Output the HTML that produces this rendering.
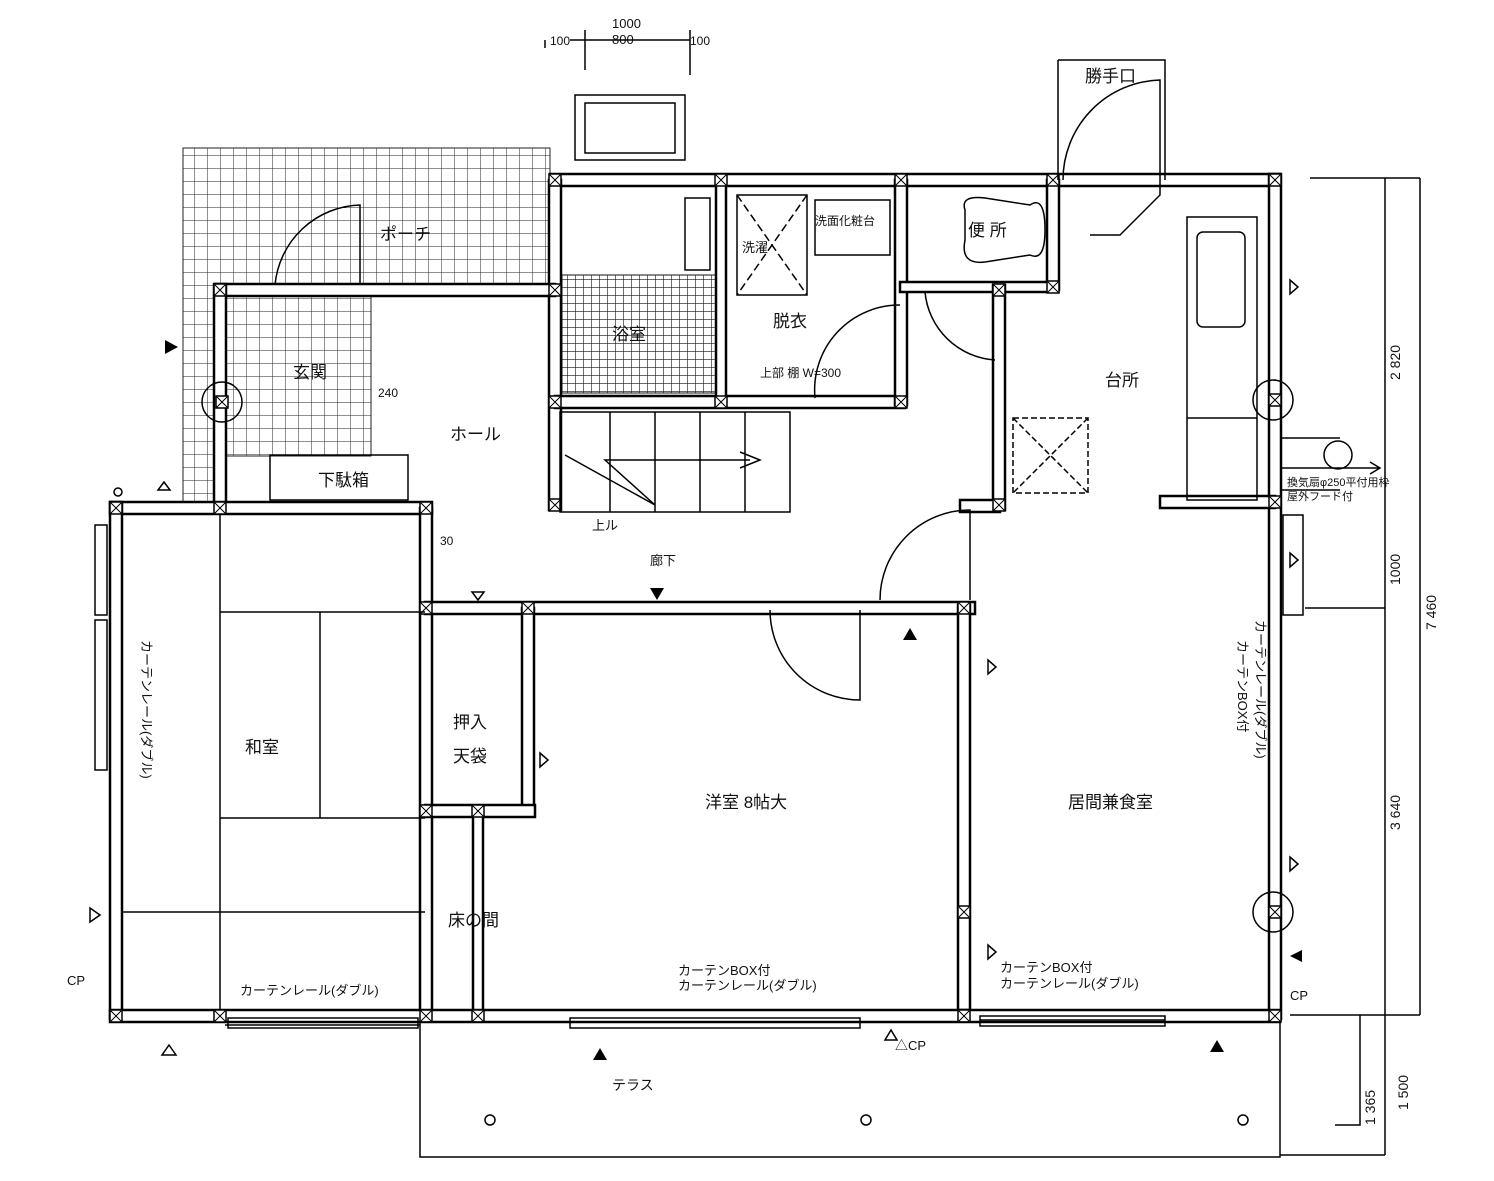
<!DOCTYPE html>
<html><head><meta charset="utf-8"><style>
html,body{margin:0;padding:0;background:#fff;}
svg{display:block}
text{font-family:"Liberation Sans","Noto Sans CJK JP",sans-serif;fill:#111}
</style></head><body>
<svg width="1494" height="1181" viewBox="0 0 1494 1181" xmlns="http://www.w3.org/2000/svg">
<defs>
<pattern id="grid" width="13" height="13" patternUnits="userSpaceOnUse"><path d="M13 0V13H0" fill="none" stroke="#222" stroke-width="1"/></pattern>
<pattern id="fgrid" width="8" height="8" patternUnits="userSpaceOnUse"><path d="M8 0V8H0" fill="none" stroke="#111" stroke-width="1.2"/></pattern>
<g id="post"><rect x="-6" y="-6" width="12" height="12" fill="#fff" stroke="#000" stroke-width="1.5"/><path d="M-6 -6L6 6M6 -6L-6 6" stroke="#000" stroke-width="1"/></g>
</defs>
<rect width="1494" height="1181" fill="#fff"/>
<path d="M183 148H550V290H220V505H183Z" fill="url(#grid)" stroke="#222"/>
<rect x="226" y="296" width="145" height="160" fill="url(#grid)" stroke="#222"/>
<rect x="562" y="275" width="155" height="118" fill="url(#fgrid)" stroke="#111"/>
<g fill="#fff" stroke="#000" stroke-width="2.5">
<rect x="550" y="174" width="730" height="12"/>
<rect x="1269" y="174" width="12" height="845"/>
<rect x="549" y="180" width="12" height="330"/>
<rect x="555" y="396" width="350" height="12"/>
<rect x="716" y="180" width="10" height="220"/>
<rect x="895" y="180" width="12" height="225"/>
<rect x="1047" y="180" width="12" height="110"/>
<rect x="900" y="282" width="158" height="10"/>
<rect x="993" y="285" width="12" height="225"/>
<rect x="215" y="284" width="340" height="12"/>
<rect x="214" y="284" width="12" height="225"/>
<rect x="110" y="502" width="322" height="12"/>
<rect x="110" y="502" width="12" height="517"/>
<rect x="420" y="508" width="12" height="510"/>
<rect x="425" y="602" width="550" height="12"/>
<rect x="522" y="608" width="12" height="205"/>
<rect x="425" y="805" width="110" height="12"/>
<rect x="473" y="810" width="10" height="205"/>
<rect x="958" y="605" width="12" height="405"/>
<rect x="110" y="1010" width="1170" height="12"/>
<rect x="1160" y="496" width="115" height="12"/>
<rect x="960" y="500" width="40" height="12"/>
</g>
<g>
<use href="#post" x="555" y="180"/><use href="#post" x="721" y="180"/><use href="#post" x="901" y="180"/><use href="#post" x="1053" y="180"/><use href="#post" x="1275" y="180"/>
<use href="#post" x="555" y="402"/><use href="#post" x="721" y="402"/><use href="#post" x="901" y="402"/><use href="#post" x="1053" y="287"/><use href="#post" x="999" y="290"/>
<use href="#post" x="220" y="290"/><use href="#post" x="555" y="290"/><use href="#post" x="116" y="508"/><use href="#post" x="220" y="508"/><use href="#post" x="426" y="508"/>
<use href="#post" x="426" y="608"/><use href="#post" x="528" y="608"/><use href="#post" x="964" y="608"/><use href="#post" x="426" y="811"/><use href="#post" x="478" y="811"/>
<use href="#post" x="116" y="1016"/><use href="#post" x="220" y="1016"/><use href="#post" x="426" y="1016"/><use href="#post" x="478" y="1016"/><use href="#post" x="964" y="1016"/><use href="#post" x="1275" y="1016"/>
<use href="#post" x="1275" y="502"/><use href="#post" x="999" y="505"/><use href="#post" x="555" y="505"/><use href="#post" x="1275" y="400"/><use href="#post" x="1275" y="912"/><use href="#post" x="222" y="402"/><use href="#post" x="964" y="912"/>
</g>
<g fill="none" stroke="#000" stroke-width="1.5">
<rect x="420" y="1022" width="860" height="135"/>
<rect x="95" y="525" width="12" height="90"/><rect x="95" y="620" width="12" height="150"/>
<rect x="1283" y="515" width="20" height="100"/>
<rect x="270" y="455" width="138" height="45"/>
<rect x="575" y="95" width="110" height="65"/>
<rect x="585" y="103" width="90" height="50"/>
<rect x="1187" y="217" width="70" height="283"/>
<rect x="1197" y="232" width="48" height="95" rx="6"/>
<line x1="1187" y1="418" x2="1257" y2="418"/>
<rect x="737" y="195" width="70" height="100"/>
<path d="M737 195L807 295M807 195L737 295" stroke-dasharray="8 4"/>
<rect x="1013" y="418" width="75" height="75" stroke-dasharray="6 3"/>
<path d="M1013 418L1088 493M1088 418L1013 493" stroke-dasharray="6 3"/>
<rect x="815" y="200" width="75" height="55"/>
<rect x="685" y="198" width="25" height="72"/>
<path d="M965 210 Q960 195 985 198 L1030 205 Q1045 195 1045 230 Q1045 262 1030 255 L985 262 Q960 265 965 240Z"/>
<rect x="560" y="412" width="230" height="100"/>
<path d="M610 412V512M655 412V512M700 412V512M745 412V512M565 455L655 505L605 460L750 460M740 452L760 460L740 468"/>
<path d="M275 285A88 88 0 0 1 360 205V285"/>
<path d="M860 610V700A90 90 0 0 1 770 610"/>
<path d="M880 600A90 90 0 0 1 970 510V600"/>
<path d="M815 398A85 85 0 0 1 900 305"/>
<path d="M925 292A75 75 0 0 0 995 360"/>
<path d="M1063 180A100 100 0 0 1 1160 80V180"/>
<path d="M1058 60V180M1058 60H1165V180"/>
<path d="M1160 180L1160 195L1120 235L1090 235"/>
<path d="M220 514V1010M220 612H425M320 612V818M220 818H425M122 912H425"/>
<path d="M1310 178H1420M1385 178V1155M1420 178V1015M1305 608H1385M1290 1015H1420M1280 1155H1385M1360 1015V1125H1335"/>
<path d="M570 40H690M585 30V70M690 30V75M545 40V48"/>
<path d="M1281 438H1340M1281 468H1380M1281 490H1340M1370 462L1380 468L1370 474"/>
<circle cx="1338" cy="455" r="14"/>
<circle cx="1273" cy="400" r="20"/><circle cx="1273" cy="912" r="20"/><circle cx="222" cy="402" r="20"/>
<circle cx="490" cy="1120" r="5"/><circle cx="866" cy="1120" r="5"/><circle cx="1243" cy="1120" r="5"/>
<circle cx="118" cy="492" r="4"/>
<path d="M225 1025H420M570 1022H860M980 1020H1165"/>
<rect x="570" y="1018" width="290" height="10"/><rect x="980" y="1016" width="185" height="10"/><rect x="228" y="1018" width="190" height="10"/>
<path d="M158 490L170 490L164 482Z M472 592L484 592L478 600Z M162 1055L176 1055L169 1045Z M885 1040L897 1040L891 1030Z M1290 280L1298 287L1290 294Z M1290 553L1298 560L1290 567Z M1290 857L1298 864L1290 871Z M988 660L996 667L988 674Z M540 753L548 760L540 767Z M988 945L996 952L988 959Z M90 908L100 915L90 922Z"/>
</g>
<g fill="#000">
<path d="M165 340L178 347L165 354Z"/><path d="M650 588L664 588L657 600Z"/><path d="M903 640L917 640L910 628Z"/>
<path d="M593 1060L607 1060L600 1048Z"/><path d="M1210 1052L1224 1052L1217 1040Z"/><path d="M1302 950L1302 962L1290 956Z"/>
</g>
<g font-size="17">
<text x="380" y="240">ポーチ</text>
<text x="293" y="378">玄関</text>
<text x="450" y="440">ホール</text>
<text x="318" y="486">下駄箱</text>
<text x="612" y="340">浴室</text>
<text x="773" y="327">脱衣</text>
<text x="742" y="252" font-size="13">洗濯</text>
<text x="815" y="225" font-size="12">洗面化粧台</text>
<text x="968" y="236">便 所</text>
<text x="1085" y="82">勝手口</text>
<text x="1105" y="386">台所</text>
<text x="245" y="753">和室</text>
<text x="453" y="728">押入</text>
<text x="453" y="762">天袋</text>
<text x="448" y="926">床の間</text>
<text x="705" y="808">洋室 8帖大</text>
<text x="1068" y="808">居間兼食室</text>
<text x="612" y="1090" font-size="14">テラス</text>
<text x="650" y="565" font-size="13">廊下</text>
<text x="592" y="530" font-size="13">上ル</text>
<text x="760" y="377" font-size="12">上部 棚 W=300</text>
<text x="240" y="995" font-size="13">カーテンレール(ダブル)</text>
<text x="678" y="975" font-size="13">カーテンBOX付</text>
<text x="678" y="990" font-size="13">カーテンレール(ダブル)</text>
<text x="1000" y="972" font-size="13">カーテンBOX付</text>
<text x="1000" y="988" font-size="13">カーテンレール(ダブル)</text>
<text x="1287" y="486" font-size="11">換気扇φ250平付用枠</text>
<text x="1287" y="500" font-size="11">屋外フード付</text>
<text x="67" y="985" font-size="13">CP</text><text x="1290" y="1000" font-size="13">CP</text><text x="895" y="1050" font-size="13">△CP</text>
<text x="378" y="397" font-size="12">240</text><text x="440" y="545" font-size="12">30</text>
<text x="612" y="28" font-size="13">1000</text><text x="612" y="44" font-size="13">800</text>
<text x="550" y="45" font-size="12">100</text><text x="690" y="45" font-size="12">100</text>
</g>
<g font-size="14">
<text transform="translate(1400,380) rotate(-90)">2 820</text>
<text transform="translate(1400,585) rotate(-90)">1000</text>
<text transform="translate(1436,630) rotate(-90)">7 460</text>
<text transform="translate(1400,830) rotate(-90)">3 640</text>
<text transform="translate(1375,1125) rotate(-90)">1 365</text>
<text transform="translate(1408,1110) rotate(-90)">1 500</text>
<text transform="translate(142,640) rotate(90)" font-size="13">カーテンレール(ダブル)</text>
<text transform="translate(1238,640) rotate(90)" font-size="13">カーテンBOX付</text>
<text transform="translate(1256,620) rotate(90)" font-size="13">カーテンレール(ダブル)</text>
</g>
</svg>
</body></html>
